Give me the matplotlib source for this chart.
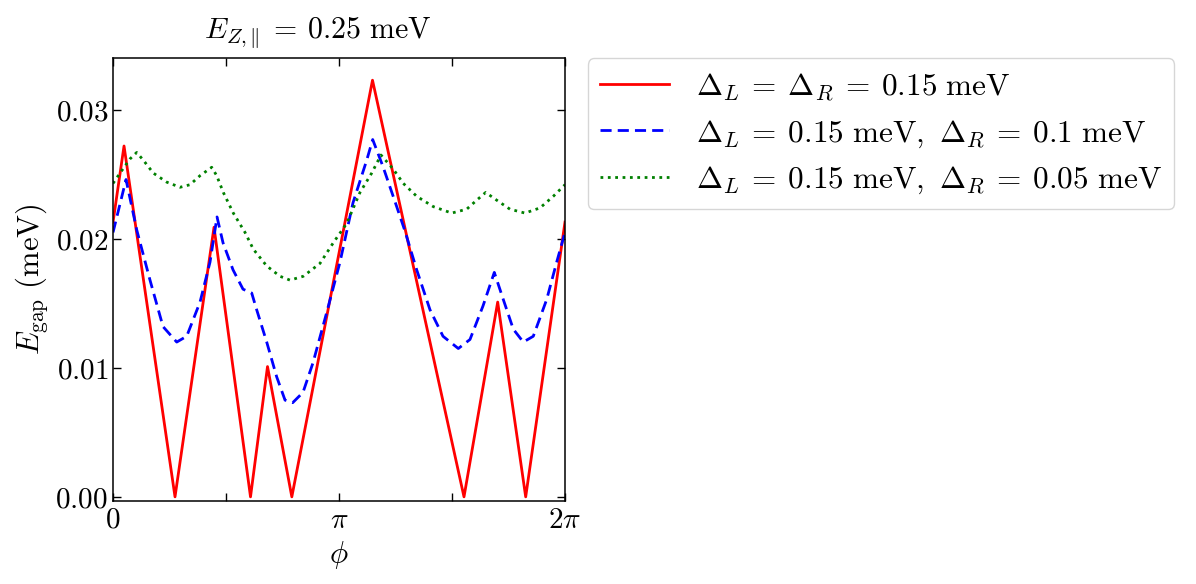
import numpy as np
import matplotlib
matplotlib.use("Agg")
import matplotlib.pyplot as plt

plt.rcParams['mathtext.fontset'] = 'cm'
plt.rcParams['font.family'] = ['DejaVu Serif']

# phi in units of pi, gap in meV
phi_red = [0.0, 0.0487, 0.2743, 0.4469, 0.6084, 0.6836, 0.7912, 1.1482,
           1.5531, 1.7022, 1.8261, 2.0]
gap_red = [0.0213, 0.0272, 0.0, 0.0209, 0.0, 0.0101, 0.0, 0.0323,
           0.0, 0.0151, 0.0, 0.0213]

phi_blue = [0.0, 0.0575, 0.1049, 0.1637, 0.2212, 0.2819, 0.3261, 0.3850,
            0.4292, 0.4602, 0.4867, 0.5310, 0.5752, 0.6137, 0.6358, 0.6801,
            0.7243, 0.7611, 0.7951, 0.8407, 0.8850, 0.9456, 1.0044, 1.0619,
            1.1226, 1.1491, 1.1947, 1.2553, 1.2920, 1.3438, 1.4027, 1.4602,
            1.5279, 1.5796, 1.6372, 1.6872, 1.7270, 1.7712, 1.8155, 1.8597,
            1.9190, 1.9633, 2.0]
gap_blue = [0.0205, 0.0246, 0.0207, 0.0168, 0.0132, 0.0120, 0.01245, 0.0151,
            0.0182, 0.0217, 0.0197, 0.0176, 0.0161, 0.0158, 0.0145, 0.0120,
            0.0093, 0.0075, 0.0073, 0.0081, 0.0104, 0.0143, 0.0182, 0.0228,
            0.0261, 0.0277, 0.0256, 0.0225, 0.0206, 0.0176, 0.0145, 0.01245,
            0.0115, 0.0122, 0.0148, 0.0174, 0.0153, 0.0130, 0.0120, 0.01245,
            0.0153, 0.0182, 0.0205]

phi_green = [0.0, 0.031, 0.0752, 0.1049, 0.1341, 0.1783, 0.2376, 0.2965,
             0.3407, 0.3850, 0.4367, 0.4588, 0.4881, 0.5323, 0.5841, 0.6208,
             0.6801, 0.7389, 0.7832, 0.8420, 0.9159, 0.9748, 1.0341, 1.0929,
             1.1447, 1.1858, 1.2403, 1.2845, 1.3438, 1.4173, 1.4987, 1.5650,
             1.6093, 1.6491, 1.6978, 1.7566, 1.8230, 1.8894, 1.9482, 2.0]
gap_green = [0.0243, 0.0251, 0.0262, 0.0267, 0.0261, 0.0251, 0.0244, 0.0240,
             0.0242, 0.0249, 0.02555, 0.0249, 0.0236, 0.0220, 0.0205, 0.0192,
             0.0179, 0.0171, 0.0168, 0.0171, 0.0181, 0.0197, 0.0212, 0.0236,
             0.0251, 0.0265, 0.0254, 0.0243, 0.0233, 0.0225, 0.0220, 0.0223,
             0.0230, 0.0236, 0.0230, 0.0223, 0.0220, 0.0224, 0.0233, 0.0242]

labels = [r'$\Delta_L \:=\: \Delta_R \:=\: 0.15\ \mathrm{meV}$',
          r'$\Delta_L \:=\: 0.15\ \mathrm{meV},\ \Delta_R \:=\: 0.1\ \mathrm{meV}$',
          r'$\Delta_L \:=\: 0.15\ \mathrm{meV},\ \Delta_R \:=\: 0.05\ \mathrm{meV}$']

xticks = [0, 0.5, 1.0, 1.5, 2.0]
xticklabels = [r'$0$', '', r'$\pi$', '', r'$2\pi$']
yticks = [0.0, 0.01, 0.02, 0.03]
yticklabels = [r'$0.00$', r'$0.01$', r'$0.02$', r'$0.03$']

fig = plt.figure(figsize=(11.96, 5.84), dpi=100)
ax = fig.add_axes([0.0945, 0.1426, 0.3779, 0.7576])

ax.plot(np.pi * np.array(phi_red), gap_red, color='red', lw=2, ls='-', label=labels[0])
ax.plot(np.pi * np.array(phi_blue), gap_blue, color='blue', lw=2, ls=(0, (4, 2.2)), label=labels[1])
ax.plot(np.pi * np.array(phi_green), gap_green, color='green', lw=2, ls=':', label=labels[2])

ax.set_xlim(0, 2 * np.pi)
ax.set_ylim(-0.0003, 0.034)
ax.set_xticks(np.pi * np.array(xticks))
ax.set_xticklabels(xticklabels)
ax.set_yticks(yticks)
ax.set_yticklabels(yticklabels)
ax.tick_params(direction='in', top=True, right=True, length=6, width=1, labelsize=21)
for sp in ax.spines.values():
    sp.set_linewidth(1.1)

ax.set_xlabel(r'$\phi$', fontsize=22)
ax.set_ylabel(r'$E_{\mathrm{gap}}\ (\mathrm{meV})$', fontsize=22)
ax.set_title(r'$E_{Z,\|} \:=\: 0.25\ \mathrm{meV}$', fontsize=21.5, pad=14, x=0.4535)

ax.legend(loc='upper left', bbox_to_anchor=(1.05, 1.0), borderaxespad=0, fontsize=22.5,
          handlelength=2.2, handletextpad=0.86, labelspacing=0.47, borderpad=0.4)

fig.savefig('out.png', dpi=100)
